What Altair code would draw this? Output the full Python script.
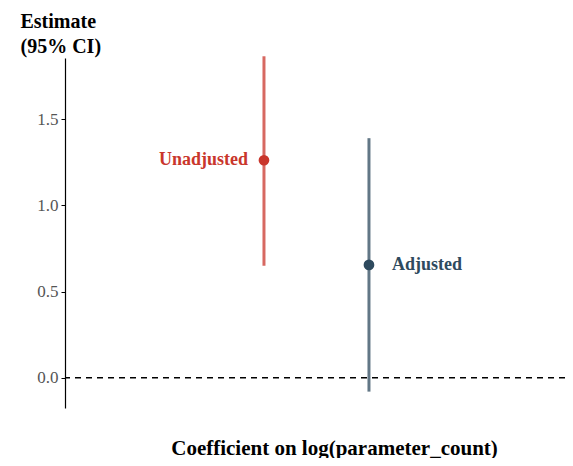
import altair as alt
import pandas as pd

models = ["Unadjusted", "Adjusted"]
estimates = [1.262, 0.655]
ci_low = [0.65, -0.08]
ci_high = [1.865, 1.39]
point_colors = ["#c9362c", "#2e4a5e"]
label_dx = [-16, 23]

df = pd.DataFrame({
    "model": models,
    "idx": list(range(len(models))),
    "est": estimates,
    "lo": ci_low,
    "hi": ci_high,
    "color": point_colors,
})

FONT = "Liberation Serif"

x = alt.X("idx:Q",
          scale=alt.Scale(domain=[-1.895, 2.867], nice=False, zero=False),
          axis=alt.Axis(labels=False, ticks=False, domain=False, grid=False,
                        title="Coefficient on log(parameter_count)",
                        titleFont=FONT, titleFontSize=21, titleFontWeight="bold",
                        titleColor="#000000", titleX=269, titleY=46,
                        titleAlign="center", titleBaseline="alphabetic"))
yscale = alt.Scale(domain=[-0.175, 1.855], nice=False, zero=False)
y = alt.Y("est:Q", scale=yscale,
          axis=alt.Axis(values=[0.0, 0.5, 1.0, 1.5], format=".1f",
                        title=["Estimate", "(95% CI)"],
                        titleFont=FONT, titleFontSize=20, titleFontWeight="bold",
                        titleColor="#000000", titleAngle=0, titleAlign="left",
                        titleBaseline="alphabetic", titleX=-45, titleY=-31,
                        titleLineHeight=25,
                        labelFont=FONT, labelFontSize=17, labelColor="#555555",
                        labelPadding=3,
                        tickSize=4, tickColor="#000000", domainColor="#000000",
                        domainWidth=1.2, grid=False))

color = alt.Color("color:N", scale=None)

base = alt.Chart(df)

zero = alt.Chart(pd.DataFrame({"z": [0.0]})).mark_rule(
    color="#000000", strokeDash=[6, 5], strokeWidth=1.5
).encode(y=alt.Y("z:Q", scale=yscale))

bars = base.mark_rule(strokeWidth=3, opacity=0.75).encode(
    x=x, y=alt.Y("lo:Q", scale=yscale), y2="hi:Q", color=color
)

points = base.mark_circle(size=115, opacity=1).encode(x=x, y=y, color=color)

lab_u = alt.Chart(df[df.model == "Unadjusted"]).mark_text(
    align="right", baseline="middle", dx=label_dx[0], font=FONT,
    fontSize=18, fontWeight="bold"
).encode(x=x, y=y, text="model:N", color=color)
lab_a = alt.Chart(df[df.model == "Adjusted"]).mark_text(
    align="left", baseline="middle", dx=label_dx[1], font=FONT,
    fontSize=18, fontWeight="bold"
).encode(x=x, y=y, text="model:N", color=color)

chart = alt.layer(zero, bars, points, lab_u, lab_a).properties(
    width=500, height=350,
    autosize=alt.AutoSizeParams(type="none"),
    padding={"left": 57, "top": 50, "right": 0, "bottom": 50},
    background="white",
).configure_view(stroke=None)

chart.save("out.html", embed_options={"renderer": "svg", "actions": False})
